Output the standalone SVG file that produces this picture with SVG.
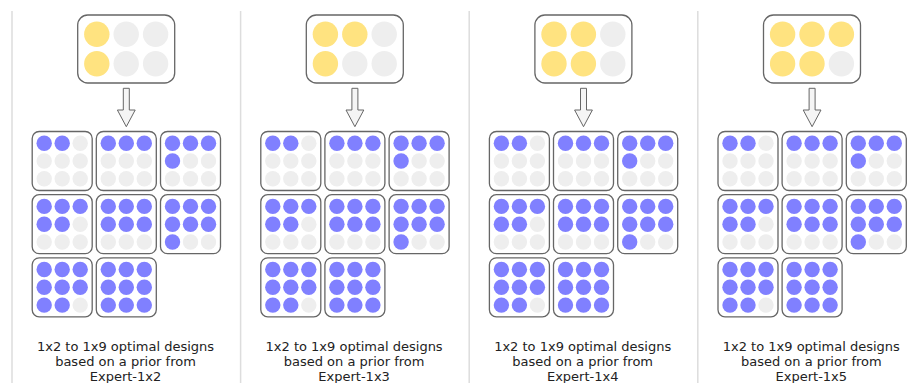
<svg xmlns="http://www.w3.org/2000/svg" xmlns:xlink="http://www.w3.org/1999/xlink" width="918" height="383" viewBox="0 0 918 383">
<style>
.frame{fill:#fff;stroke:#666;stroke-width:1.3}
.b{fill:#8080ff}
.e{fill:#eeeeee}
.y{fill:#ffe380}
.div{stroke:#dddddd;stroke-width:1.5}
.arr{fill:#f5f5f5;stroke:#666;stroke-width:1}
.lbl{font-family:"DejaVu Sans","Liberation Sans",sans-serif;font-size:13px;fill:#222;text-anchor:middle}
</style>
<defs>
<g id="cell-frame"><rect class="frame" x="-30" y="-29.5" width="60" height="59" rx="7"/></g>
<g id="d2"><use href="#cell-frame"/><circle class="b" cx="-18" cy="-17.8" r="7.7"/><circle class="b" cx="0" cy="-17.8" r="7.7"/><circle class="e" cx="18" cy="-17.8" r="7.7"/><circle class="e" cx="-18" cy="0" r="7.7"/><circle class="e" cx="0" cy="0" r="7.7"/><circle class="e" cx="18" cy="0" r="7.7"/><circle class="e" cx="-18" cy="17.8" r="7.7"/><circle class="e" cx="0" cy="17.8" r="7.7"/><circle class="e" cx="18" cy="17.8" r="7.7"/></g>
<g id="d3"><use href="#cell-frame"/><circle class="b" cx="-18" cy="-17.8" r="7.7"/><circle class="b" cx="0" cy="-17.8" r="7.7"/><circle class="b" cx="18" cy="-17.8" r="7.7"/><circle class="e" cx="-18" cy="0" r="7.7"/><circle class="e" cx="0" cy="0" r="7.7"/><circle class="e" cx="18" cy="0" r="7.7"/><circle class="e" cx="-18" cy="17.8" r="7.7"/><circle class="e" cx="0" cy="17.8" r="7.7"/><circle class="e" cx="18" cy="17.8" r="7.7"/></g>
<g id="d4"><use href="#cell-frame"/><circle class="b" cx="-18" cy="-17.8" r="7.7"/><circle class="b" cx="0" cy="-17.8" r="7.7"/><circle class="b" cx="18" cy="-17.8" r="7.7"/><circle class="b" cx="-18" cy="0" r="7.7"/><circle class="e" cx="0" cy="0" r="7.7"/><circle class="e" cx="18" cy="0" r="7.7"/><circle class="e" cx="-18" cy="17.8" r="7.7"/><circle class="e" cx="0" cy="17.8" r="7.7"/><circle class="e" cx="18" cy="17.8" r="7.7"/></g>
<g id="d5"><use href="#cell-frame"/><circle class="b" cx="-18" cy="-17.8" r="7.7"/><circle class="b" cx="0" cy="-17.8" r="7.7"/><circle class="b" cx="18" cy="-17.8" r="7.7"/><circle class="b" cx="-18" cy="0" r="7.7"/><circle class="b" cx="0" cy="0" r="7.7"/><circle class="e" cx="18" cy="0" r="7.7"/><circle class="e" cx="-18" cy="17.8" r="7.7"/><circle class="e" cx="0" cy="17.8" r="7.7"/><circle class="e" cx="18" cy="17.8" r="7.7"/></g>
<g id="d6"><use href="#cell-frame"/><circle class="b" cx="-18" cy="-17.8" r="7.7"/><circle class="b" cx="0" cy="-17.8" r="7.7"/><circle class="b" cx="18" cy="-17.8" r="7.7"/><circle class="b" cx="-18" cy="0" r="7.7"/><circle class="b" cx="0" cy="0" r="7.7"/><circle class="b" cx="18" cy="0" r="7.7"/><circle class="e" cx="-18" cy="17.8" r="7.7"/><circle class="e" cx="0" cy="17.8" r="7.7"/><circle class="e" cx="18" cy="17.8" r="7.7"/></g>
<g id="d7"><use href="#cell-frame"/><circle class="b" cx="-18" cy="-17.8" r="7.7"/><circle class="b" cx="0" cy="-17.8" r="7.7"/><circle class="b" cx="18" cy="-17.8" r="7.7"/><circle class="b" cx="-18" cy="0" r="7.7"/><circle class="b" cx="0" cy="0" r="7.7"/><circle class="b" cx="18" cy="0" r="7.7"/><circle class="b" cx="-18" cy="17.8" r="7.7"/><circle class="e" cx="0" cy="17.8" r="7.7"/><circle class="e" cx="18" cy="17.8" r="7.7"/></g>
<g id="d8"><use href="#cell-frame"/><circle class="b" cx="-18" cy="-17.8" r="7.7"/><circle class="b" cx="0" cy="-17.8" r="7.7"/><circle class="b" cx="18" cy="-17.8" r="7.7"/><circle class="b" cx="-18" cy="0" r="7.7"/><circle class="b" cx="0" cy="0" r="7.7"/><circle class="b" cx="18" cy="0" r="7.7"/><circle class="b" cx="-18" cy="17.8" r="7.7"/><circle class="b" cx="0" cy="17.8" r="7.7"/><circle class="e" cx="18" cy="17.8" r="7.7"/></g>
<g id="d9"><use href="#cell-frame"/><circle class="b" cx="-18" cy="-17.8" r="7.7"/><circle class="b" cx="0" cy="-17.8" r="7.7"/><circle class="b" cx="18" cy="-17.8" r="7.7"/><circle class="b" cx="-18" cy="0" r="7.7"/><circle class="b" cx="0" cy="0" r="7.7"/><circle class="b" cx="18" cy="0" r="7.7"/><circle class="b" cx="-18" cy="17.8" r="7.7"/><circle class="b" cx="0" cy="17.8" r="7.7"/><circle class="b" cx="18" cy="17.8" r="7.7"/></g>
<g id="designs">
<use href="#d2" x="62.2" y="161"/><use href="#d3" x="126.3" y="161"/><use href="#d4" x="190.5" y="161"/>
<use href="#d5" x="62.2" y="224.2"/><use href="#d6" x="126.3" y="224.2"/><use href="#d7" x="190.5" y="224.2"/>
<use href="#d8" x="62.2" y="287.3"/><use href="#d9" x="126.3" y="287.3"/>
</g>
<path id="down-arrow" d="M123.3,88.3 H129.3 V110 H135.2 L126.3,126.7 L117.4,110 H123.3 Z"/>
</defs>

<g id="dividers">
<line class="div" x1="12" y1="11" x2="12" y2="383"/>
<line class="div" x1="240.6" y1="11" x2="240.6" y2="383"/>
<line class="div" x1="469.2" y1="11" x2="469.2" y2="383"/>
<line class="div" x1="697.8" y1="11" x2="697.8" y2="383"/>
</g>

<g id="panel-1x2">
<g id="prior-1x2">
<rect class="frame" x="77.7" y="15" width="97" height="68" rx="10"/>
<circle class="y" cx="96.8" cy="34.3" r="12.7"/><circle class="e" cx="126.2" cy="34.3" r="12.7"/><circle class="e" cx="155.6" cy="34.3" r="12.7"/>
<circle class="y" cx="96.8" cy="63.8" r="12.7"/><circle class="e" cx="126.2" cy="63.8" r="12.7"/><circle class="e" cx="155.6" cy="63.8" r="12.7"/>
</g>
<g id="designs-1x2"><use href="#designs"/></g>
<text class="lbl" x="125.5"><tspan x="125.5" y="351">1x2 to 1x9 optimal designs</tspan><tspan x="125.5" y="366">based on a prior from</tspan><tspan x="125.5" y="381">Expert-1x2</tspan></text>
</g>

<g id="panel-1x3" transform="translate(228.6,0)">
<g id="prior-1x3">
<rect class="frame" x="77.7" y="15" width="97" height="68" rx="10"/>
<circle class="y" cx="96.8" cy="34.3" r="12.7"/><circle class="y" cx="126.2" cy="34.3" r="12.7"/><circle class="e" cx="155.6" cy="34.3" r="12.7"/>
<circle class="y" cx="96.8" cy="63.8" r="12.7"/><circle class="e" cx="126.2" cy="63.8" r="12.7"/><circle class="e" cx="155.6" cy="63.8" r="12.7"/>
</g>
<g id="designs-1x3"><use href="#designs"/></g>
<text class="lbl" x="125.5"><tspan x="125.5" y="351">1x2 to 1x9 optimal designs</tspan><tspan x="125.5" y="366">based on a prior from</tspan><tspan x="125.5" y="381">Expert-1x3</tspan></text>
</g>

<g id="panel-1x4" transform="translate(457.2,0)">
<g id="prior-1x4">
<rect class="frame" x="77.7" y="15" width="97" height="68" rx="10"/>
<circle class="y" cx="96.8" cy="34.3" r="12.7"/><circle class="y" cx="126.2" cy="34.3" r="12.7"/><circle class="e" cx="155.6" cy="34.3" r="12.7"/>
<circle class="y" cx="96.8" cy="63.8" r="12.7"/><circle class="y" cx="126.2" cy="63.8" r="12.7"/><circle class="e" cx="155.6" cy="63.8" r="12.7"/>
</g>
<g id="designs-1x4"><use href="#designs"/></g>
<text class="lbl" x="125.5"><tspan x="125.5" y="351">1x2 to 1x9 optimal designs</tspan><tspan x="125.5" y="366">based on a prior from</tspan><tspan x="125.5" y="381">Expert-1x4</tspan></text>
</g>

<g id="panel-1x5" transform="translate(685.8,0)">
<g id="prior-1x5">
<rect class="frame" x="77.7" y="15" width="97" height="68" rx="10"/>
<circle class="y" cx="96.8" cy="34.3" r="12.7"/><circle class="y" cx="126.2" cy="34.3" r="12.7"/><circle class="y" cx="155.6" cy="34.3" r="12.7"/>
<circle class="y" cx="96.8" cy="63.8" r="12.7"/><circle class="y" cx="126.2" cy="63.8" r="12.7"/><circle class="e" cx="155.6" cy="63.8" r="12.7"/>
</g>
<g id="designs-1x5"><use href="#designs"/></g>
<text class="lbl" x="125.5"><tspan x="125.5" y="351">1x2 to 1x9 optimal designs</tspan><tspan x="125.5" y="366">based on a prior from</tspan><tspan x="125.5" y="381">Expert-1x5</tspan></text>
</g>

<g id="connectors">
<use class="arr" href="#down-arrow"/>
<use class="arr" href="#down-arrow" x="228.6"/>
<use class="arr" href="#down-arrow" x="457.2"/>
<use class="arr" href="#down-arrow" x="685.8"/>
</g>
</svg>
